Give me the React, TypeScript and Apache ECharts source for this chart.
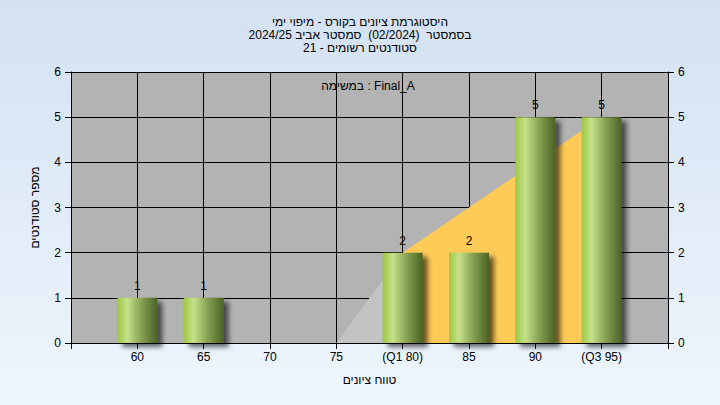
import React, { useEffect, useRef } from "react";
import * as echarts from "echarts";

const titleLines = [
  "היסטוגרמת ציונים בקורס - מיפוי ימי",
  "בסמסטר  (02/2024)  סמסטר אביב 2024/25",
  "סטודנטים רשומים - 21",
];
const taskLabel = "במשימה : Final_A";
const xAxisName = "טווח ציונים";
const yAxisName = "מספר סטודנטים";

const grades = [60, 65, 70, 75, 80, 85, 90, 95];
const gradeLabels = ["60", "65", "70", "75", "(Q1 80)", "85", "90", "(Q3 95)"];
const counts = [1, 1, 0, 0, 2, 2, 5, 5];

// quartile band (below Q1 in light gray, Q1..Q3 in yellow)
const lowBandX = [75, 80];
const lowBandY = [0, 2];
const midBandX = [80, 85, 90, 95];
const midBandY = [2, 3, 4, 5];

const FONT = "'Liberation Sans', 'DejaVu Sans', sans-serif";

export default function App() {
  const ref = useRef<HTMLDivElement>(null);
  useEffect(() => {
    document.body.style.margin = "0";
    const chart = echarts.init(ref.current!, null, { renderer: "svg" });
    const barGradient = new echarts.graphic.LinearGradient(0, 0, 1, 0, [
      { offset: 0, color: "#9CC844" },
      { offset: 0.25, color: "#C6E189" },
      { offset: 0.6, color: "#86A152" },
      { offset: 1, color: "#4A6224" },
    ]);
    const labelFor = (v: number) => {
      const i = grades.indexOf(v);
      return i >= 0 ? gradeLabels[i] : "";
    };
    chart.setOption({
      animation: false,
      backgroundColor: new echarts.graphic.LinearGradient(0, 0, 0, 1, [
        { offset: 0, color: "#D3E1F2" },
        { offset: 1, color: "#EEF6FD" },
      ]),
      textStyle: { fontFamily: FONT },
      title: {
        text: titleLines.join("\n"),
        left: "center",
        top: 10,
        textStyle: {
          fontSize: 12,
          fontWeight: "normal",
          color: "#000",
          lineHeight: 13,
          fontFamily: FONT,
        },
      },
      graphic: [
        {
          type: "text",
          x: 368,
          y: 86,
          style: {
            text: taskLabel,
            fontSize: 12,
            fontFamily: FONT,
            fill: "#000",
            align: "center",
            verticalAlign: "middle",
          },
        },
      ],
      grid: {
        left: 71,
        right: 52,
        top: 72,
        bottom: 62,
        show: true,
        backgroundColor: "#B3B3B3",
        borderWidth: 0,
      },
      xAxis: {
        type: "value",
        min: 55,
        max: 100,
        interval: 5,
        name: xAxisName,
        nameLocation: "middle",
        nameGap: 31,
        nameTextStyle: { fontSize: 12, color: "#000", fontFamily: FONT },
        axisLine: { show: true, lineStyle: { color: "#000", width: 1 } },
        axisTick: { show: true, length: 6, lineStyle: { color: "#000" } },
        axisLabel: {
          fontSize: 12,
          color: "#000",
          margin: 8,
          formatter: (v: number) => labelFor(v),
          showMinLabel: true,
          showMaxLabel: true,
        },
        splitLine: { show: true, lineStyle: { color: "#000", width: 1 } },
      },
      yAxis: [
        {
          type: "value",
          min: 0,
          max: 6,
          interval: 1,
          position: "left",
          name: yAxisName,
          nameLocation: "middle",
          nameGap: 30,
          nameTextStyle: { fontSize: 12, color: "#000", fontFamily: FONT },
          axisLine: { show: true, lineStyle: { color: "#000", width: 1 } },
          axisTick: { show: true, length: 6, lineStyle: { color: "#000" } },
          axisLabel: { fontSize: 12, color: "#000", margin: 10 },
          splitLine: { show: true, lineStyle: { color: "#000", width: 1 } },
        },
        {
          type: "value",
          min: 0,
          max: 6,
          interval: 1,
          position: "right",
          axisLine: { show: true, lineStyle: { color: "#000", width: 1 } },
          axisTick: { show: true, length: 6, lineStyle: { color: "#000" } },
          axisLabel: { fontSize: 12, color: "#000", margin: 10 },
          splitLine: { show: false },
        },
      ],
      series: [
        {
          type: "line",
          data: lowBandX.map((x, i) => [x, lowBandY[i]]),
          symbol: "none",
          lineStyle: { width: 0 },
          areaStyle: { color: "#C3C3C3", opacity: 1 },
          silent: true,
          z: 1,
        },
        {
          type: "line",
          data: midBandX.map((x, i) => [x, midBandY[i]]),
          symbol: "none",
          lineStyle: { width: 0 },
          areaStyle: { color: "#FECB57", opacity: 1 },
          silent: true,
          z: 1,
        },
        {
          type: "bar",
          data: grades.map((g, i) => [g, counts[i]]),
          barWidth: 40,
          z: 3,
          itemStyle: {
            color: barGradient,
            shadowColor: "rgba(0,0,0,0.6)",
            shadowBlur: 5,
            shadowOffsetX: 5,
            shadowOffsetY: 4,
          },
          label: {
            show: true,
            position: "top",
            distance: 6,
            fontSize: 12,
            color: "#000",
            fontFamily: FONT,
            formatter: (p: any) => (p.value[1] ? String(p.value[1]) : ""),
          },
        },
      ],
    });
    return () => chart.dispose();
  }, []);
  return <div ref={ref} style={{ width: 720, height: 405 }} />;
}
